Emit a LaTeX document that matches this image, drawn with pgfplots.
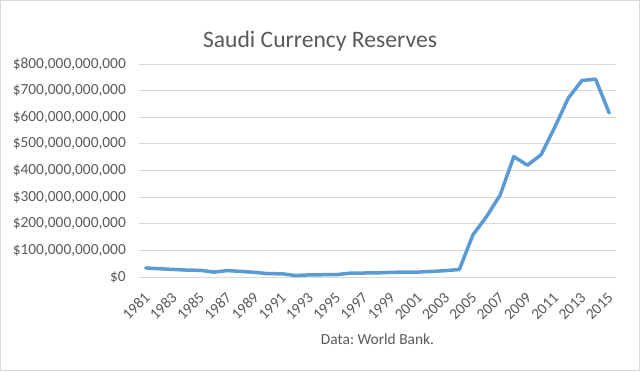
\documentclass[border=0pt]{standalone}
\usepackage{fontspec}
\setmainfont{Carlito}
\usepackage{pgfplots}
\pgfplotsset{compat=1.18}
\definecolor{txt}{HTML}{595959}
\definecolor{gridc}{HTML}{D9D9D9}
\definecolor{linec}{HTML}{5B9BD5}
\frenchspacing
\begin{document}
\begin{tikzpicture}[x=1bp,y=1bp]
\useasboundingbox (0,0) rectangle (640,371);
\draw[gridc] (0.5,0.5) rectangle (639.5,370.5);
\node[font=\fontsize{23.6bp}{28bp}\selectfont, text=txt, anchor=base] at (320,324) {Saudi Currency Reserves};
\begin{axis}[
  at={(139bp,94bp)}, anchor=south west,
  scale only axis, width=477bp, height=213bp,
  xmin=1980.5, xmax=2015.5, ymin=0, ymax=800,
  axis line style={draw=none},
  ymajorgrids, major grid style={gridc, line width=0.9bp},
  major tick length=0pt,
  ytick={0,100,...,800},
  yticklabels={\$0,{\$100,000,000,000},{\$200,000,000,000},{\$300,000,000,000},{\$400,000,000,000},{\$500,000,000,000},{\$600,000,000,000},{\$700,000,000,000},{\$800,000,000,000}},
  xtick={1981,1983,...,2015},
  xticklabels={1981,1983,1985,1987,1989,1991,1993,1995,1997,1999,2001,2003,2005,2007,2009,2011,2013,2015},
  tick label style={font=\fontsize{15.4bp}{18bp}\selectfont, text=txt, inner sep=0pt},
  yticklabel style={anchor=east, xshift=-13bp},
  xticklabel style={xshift=1.3bp, yshift=-18bp, rotate=45, anchor=east},
  xlabel={Data: World Bank.},
  xlabel style={at={(axis description cs:0.5,0)}, anchor=base, yshift=-67bp, font=\fontsize{15.4bp}{18bp}\selectfont, text=txt},
  clip=false,
]
\addplot[linec, line width=3.5bp, line join=round, line cap=round] table {
x y
1981 34
1982 31
1983 28.5
1984 26
1985 25
1986 18.5
1987 24
1988 21
1989 17.5
1990 12.5
1991 12
1992 5.5
1993 8
1994 8.5
1995 9
1996 14.5
1997 15
1998 15.5
1999 17.5
2000 18.5
2001 18.5
2002 21
2003 24
2004 28
2005 158
2006 227
2007 308
2008 452
2009 420
2010 459
2011 562
2012 672
2013 738
2014 743
2015 616
};
\end{axis}
\end{tikzpicture}
\end{document}
